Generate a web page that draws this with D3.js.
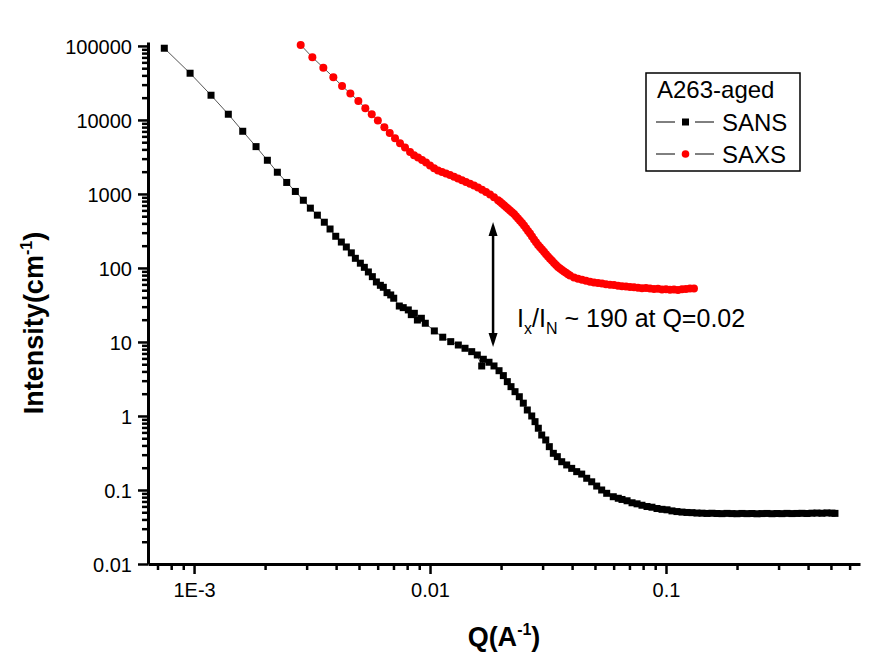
<!DOCTYPE html>
<html>
<head>
<meta charset="utf-8">
<script src="https://cdn.jsdelivr.net/npm/d3@7"></script>
<style>
  html, body { margin: 0; padding: 0; background: #fff; }
  svg { display: block; font-family: "Liberation Sans", Arial, sans-serif; }
</style>
</head>
<body>
<svg id="chart" width="889" height="672"></svg>
<script>
// ---------------- DATA ----------------
const sansQ = [7.48e-4, 9.62e-4, 1.18e-3, 1.397e-3, 1.608e-3, 1.831e-3, 2.045e-3, 2.254e-3, 2.47e-3, 2.687e-3,
  2.905e-3, 3.111e-3, 3.331e-3, 3.565e-3, 3.77e-3, 3.985e-3, 4.209e-3, 4.419e-3, 4.64e-3, 4.826e-3,
  5.067e-3, 5.268e-3, 5.479e-3, 5.696e-3, 5.924e-3, 6.16e-3, 6.34e-3, 6.573e-3, 6.815e-3, 7.017e-3,
  7.41e-3, 7.7e-3, 8.09e-3, 8.33e-3, 8.58e-3, 8.84e-3, 9.19e-3, 9.55e-3, 0.01043, 0.01132,
  0.01224, 0.01318, 0.01407, 0.01502, 0.01586, 0.01656, 0.01682, 0.01778, 0.01867, 0.01961,
  0.02045, 0.02126, 0.02204, 0.02292, 0.0239, 0.02485, 0.02584, 0.02698, 0.02786, 0.02877,
  0.02974, 0.03093, 0.03203, 0.03331, 0.03463, 0.03615, 0.03795, 0.03985, 0.04184, 0.04394,
  0.04613, 0.04844, 0.05086, 0.05339, 0.05607, 0.05978, 0.06278,
  0.0651, 0.0684, 0.0718, 0.0754, 0.0791, 0.0831, 0.0872, 0.0916, 0.0962, 0.101,
  0.106, 0.1113, 0.1169, 0.1227, 0.1289, 0.1353, 0.1421, 0.1492, 0.1566, 0.1645,
  0.1727, 0.1814, 0.1904, 0.1999, 0.2099, 0.2204, 0.2314, 0.243, 0.2551, 0.2679,
  0.2813, 0.2954, 0.3101, 0.3256, 0.3419, 0.359, 0.377, 0.3958, 0.4155, 0.4363,
  0.4581, 0.481, 0.5051, 0.5201];
const sansI = [93100, 42760, 21570, 11940, 7030, 4360, 2852, 1965, 1430, 1081,
  822, 643, 517, 415, 336, 268, 224, 192, 160, 135,
  116, 102, 88.3, 76.3, 64.7, 58.3, 54.8, 46.4, 43.2, 39.0,
  30.6, 29.1, 27.1, 23.4, 24.4, 19.8, 20.9, 17.9, 14.1, 11.6,
  10.1, 9.1, 8.22, 7.40, 6.67, 4.74, 5.84, 5.32, 4.74, 4.09,
  3.51, 2.91, 2.49, 2.13, 1.82, 1.49, 1.205, 1.0, 0.838, 0.683,
  0.553, 0.474, 0.385, 0.313, 0.282, 0.241, 0.218, 0.196, 0.177, 0.164,
  0.144, 0.129, 0.113, 0.100, 0.0902, 0.0811, 0.0773,
  0.0745, 0.0715, 0.0672, 0.0650, 0.0622, 0.0598, 0.0585, 0.0562, 0.0548, 0.0540,
  0.0522, 0.0511, 0.0503, 0.0497, 0.0494, 0.0488, 0.0486, 0.0482, 0.0485, 0.0481,
  0.0479, 0.0483, 0.0480, 0.0478, 0.0482, 0.0479, 0.0481, 0.0477, 0.0480, 0.0482,
  0.0478, 0.0481, 0.0479, 0.0483, 0.0480, 0.0482, 0.0484, 0.0481, 0.0486, 0.0488,
  0.0485, 0.0490, 0.0487, 0.0483];

const saxsQ = [2.831e-3, 3.172e-3, 3.531e-3, 3.893e-3, 4.238e-3, 4.596e-3, 4.969e-3, 5.319e-3, 5.662e-3, 6.01e-3,
  6.405e-3, 6.749e-3, 7.106e-3, 7.462e-3, 7.835e-3, 8.228e-3,
  0.008555, 0.008896, 0.00925, 0.009618, 0.0100, 0.0104, 0.01081, 0.01124, 0.01169, 0.01215,
  0.01264, 0.01314, 0.01366, 0.0142, 0.01477, 0.01536, 0.01597, 0.01661, 0.01727, 0.01796,
  0.01867, 0.01942, 0.0198, 0.02019, 0.02059, 0.02099, 0.02141, 0.02183, 0.02226, 0.0227,
  0.02314, 0.0236, 0.02406, 0.02454, 0.02502, 0.02552, 0.02602, 0.02653, 0.02705, 0.02759,
  0.02813, 0.02869, 0.02925, 0.02983, 0.03041, 0.03101, 0.03162, 0.03225, 0.03288, 0.03353,
  0.03419, 0.03486, 0.03555, 0.03625, 0.03697, 0.0377, 0.03844, 0.0392,
  0.04076, 0.04238, 0.04407, 0.04582, 0.04764, 0.04954, 0.05151, 0.05356, 0.05569, 0.05791,
  0.06021, 0.06261, 0.0651, 0.06769, 0.07038, 0.07318, 0.07609, 0.07912, 0.08227, 0.08554,
  0.08894, 0.09248, 0.09616, 0.1, 0.104, 0.1081, 0.1124, 0.1169, 0.1215, 0.1264, 0.1314];
const saxsI = [103200, 70300, 50900, 37760, 28800, 22800, 18070, 14390, 11970, 9790,
  7960, 6670, 5660, 4840, 4230, 3700,
  3343, 3105, 2880, 2656, 2427, 2224, 2078, 1983, 1892, 1807,
  1703, 1620, 1536, 1453, 1374, 1303, 1224, 1140, 1064, 984,
  902, 822, 782, 744, 706, 667, 633, 598, 568, 537,
  501, 467, 436, 405, 374, 344, 317, 292, 267, 243,
  223, 205, 191, 178, 165, 153, 143, 133, 125, 117,
  110, 103, 98.4, 94.0, 89.9, 86.1, 82.4, 79.2,
  74.4, 71.5, 69.3, 67.1, 65.3, 63.7, 62.4, 61.8, 60.4, 59.3,
  58.9, 57.4, 56.6, 56.2, 55.3, 54.8, 54.0, 53.2, 53.7, 52.7,
  52.0, 52.5, 51.2, 51.7, 50.7, 51.2, 50.4, 51.4, 52.0, 52.7, 52.8];

const xTickValues = [1e-3, 1e-2, 1e-1];
const xTickLabels = ["1E-3", "0.01", "0.1"];
const yTickValues = [0.01, 0.1, 1, 10, 100, 1000, 10000, 100000];
const yTickLabels = ["0.01", "0.1", "1", "10", "100", "1000", "10000", "100000"];
const seriesNames = ["SANS", "SAXS"];
const legendTitle = "A263-aged";
const arrowQ = 0.0185, arrowTop = 419, arrowBottom = 8.55;

// ---------------- LAYOUT ----------------
const svg = d3.select("#chart");
const L = 148, R = 860, T = 42, B = 564;
const x = d3.scaleLog().domain([6.38e-4, 0.664]).range([L, R]);
const y = d3.scaleLog().domain([0.01, 113000]).range([B, T]);

function minors(domain) {
  const out = [];
  for (let e = -5; e <= 6; e++) {
    for (let m = 2; m <= 9; m++) {
      const v = m * Math.pow(10, e);
      if (v >= domain[0] && v <= domain[1]) out.push(v);
    }
  }
  return out;
}

// minor ticks
const gxMinor = svg.append("g").attr("transform", `translate(0,${B})`)
  .call(d3.axisBottom(x).tickValues(minors(x.domain())).tickSize(6).tickSizeOuter(0).tickFormat(""));
const gyMinor = svg.append("g").attr("transform", `translate(${L},0)`)
  .call(d3.axisLeft(y).tickValues(minors(y.domain())).tickSize(6).tickSizeOuter(0).tickFormat(""));
[gxMinor, gyMinor].forEach(g => {
  g.select(".domain").remove();
  g.selectAll(".tick line").attr("stroke", "#000").attr("stroke-width", 2.5);
});

// major axes
const gx = svg.append("g").attr("transform", `translate(0,${B})`)
  .call(d3.axisBottom(x).tickValues(xTickValues).tickSize(10).tickSizeOuter(0)
    .tickFormat((d, i) => xTickLabels[i]));
const gy = svg.append("g").attr("transform", `translate(${L},0)`)
  .call(d3.axisLeft(y).tickValues(yTickValues).tickSize(10).tickSizeOuter(0)
    .tickFormat((d, i) => yTickLabels[i]));
[gx, gy].forEach(g => {
  g.select(".domain").attr("stroke", "#000").attr("stroke-width", 3);
  g.selectAll(".tick line").attr("stroke", "#000").attr("stroke-width", 2.5);
  g.selectAll(".tick text").attr("fill", "#000").style("font-size", "20px")
    .style("font-family", '"Liberation Sans", Arial, sans-serif');
});
gx.selectAll(".tick text").attr("y", 0).attr("dy", 0).attr("transform", "translate(0,33)");
gy.selectAll(".tick text").attr("x", -16).attr("dy", "0.36em");

// ---------------- SERIES ----------------
const sans = sansQ.map((q, i) => [q, sansI[i]]);
const saxs = saxsQ.map((q, i) => [q, saxsI[i]]);
const line = d3.line().x(d => x(d[0])).y(d => y(d[1]));

svg.append("path").datum(sans).attr("d", line)
  .attr("fill", "none").attr("stroke", "#555").attr("stroke-width", 1);
svg.append("g").selectAll("rect").data(sans).join("rect")
  .attr("x", d => x(d[0]) - 3.5).attr("y", d => y(d[1]) - 3.5)
  .attr("width", 7).attr("height", 7).attr("fill", "#000");

svg.append("path").datum(saxs).attr("d", line)
  .attr("fill", "none").attr("stroke", "#555").attr("stroke-width", 1);
svg.append("g").selectAll("circle").data(saxs).join("circle")
  .attr("cx", d => x(d[0])).attr("cy", d => y(d[1])).attr("r", 4)
  .attr("fill", "#ff0000");

// ---------------- ANNOTATION ----------------
const ax = x(arrowQ), ay1 = y(arrowTop), ay2 = y(arrowBottom);
svg.append("line").attr("x1", ax).attr("x2", ax).attr("y1", ay1 + 8).attr("y2", ay2 - 8)
  .attr("stroke", "#000").attr("stroke-width", 2.5);
svg.append("path").attr("d", `M${ax},${ay1} L${ax - 4.5},${ay1 + 14} L${ax + 4.5},${ay1 + 14} Z`).attr("fill", "#000");
svg.append("path").attr("d", `M${ax},${ay2} L${ax - 4.5},${ay2 - 14} L${ax + 4.5},${ay2 - 14} Z`).attr("fill", "#000");

const ann = svg.append("text").attr("x", ax + 24).attr("y", y(16))
  .style("font-size", "25px").attr("fill", "#000");
ann.append("tspan").text("I");
ann.append("tspan").text("x").style("font-size", "16px").attr("dy", 7);
ann.append("tspan").text("/I").attr("dy", -7);
ann.append("tspan").text("N").style("font-size", "16px").attr("dy", 7);
ann.append("tspan").text(" ~ 190 at Q=0.02").attr("dy", -7);

// ---------------- AXIS TITLES ----------------
const xt = svg.append("text").attr("x", (L + R) / 2).attr("y", 646)
  .attr("text-anchor", "middle").style("font-size", "27px").style("font-weight", "bold");
xt.append("tspan").text("Q(A");
xt.append("tspan").text("-1").style("font-size", "16px").attr("dy", -11);
xt.append("tspan").text(")").attr("dy", 11);

const yt = svg.append("text").attr("transform", "translate(43,323) rotate(-90)")
  .attr("text-anchor", "middle").style("font-size", "27px").style("font-weight", "bold");
yt.append("tspan").text("Intensity(cm");
yt.append("tspan").text("-1").style("font-size", "16px").attr("dy", -11);
yt.append("tspan").text(")").attr("dy", 11);

// ---------------- LEGEND ----------------
const lg = svg.append("g");
lg.append("rect").attr("x", 646).attr("y", 73).attr("width", 154).attr("height", 98)
  .attr("fill", "#fff").attr("stroke", "#000").attr("stroke-width", 1.5);
lg.append("text").attr("x", 657).attr("y", 98).style("font-size", "24px").text(legendTitle);
const rows = [{ y: 122, name: seriesNames[0], type: "sq" }, { y: 154, name: seriesNames[1], type: "ci" }];
rows.forEach(r => {
  lg.append("line").attr("x1", 656).attr("x2", 675).attr("y1", r.y).attr("y2", r.y).attr("stroke", "#000").attr("stroke-width", 1);
  lg.append("line").attr("x1", 695).attr("x2", 714).attr("y1", r.y).attr("y2", r.y).attr("stroke", "#000").attr("stroke-width", 1);
  if (r.type === "sq") lg.append("rect").attr("x", 682).attr("y", r.y - 3.5).attr("width", 7).attr("height", 7).attr("fill", "#000");
  else lg.append("circle").attr("cx", 685.5).attr("cy", r.y).attr("r", 3.8).attr("fill", "#ff0000");
  lg.append("text").attr("x", 722).attr("y", r.y + 9).style("font-size", "24px").text(r.name);
});
</script>
</body>
</html>
